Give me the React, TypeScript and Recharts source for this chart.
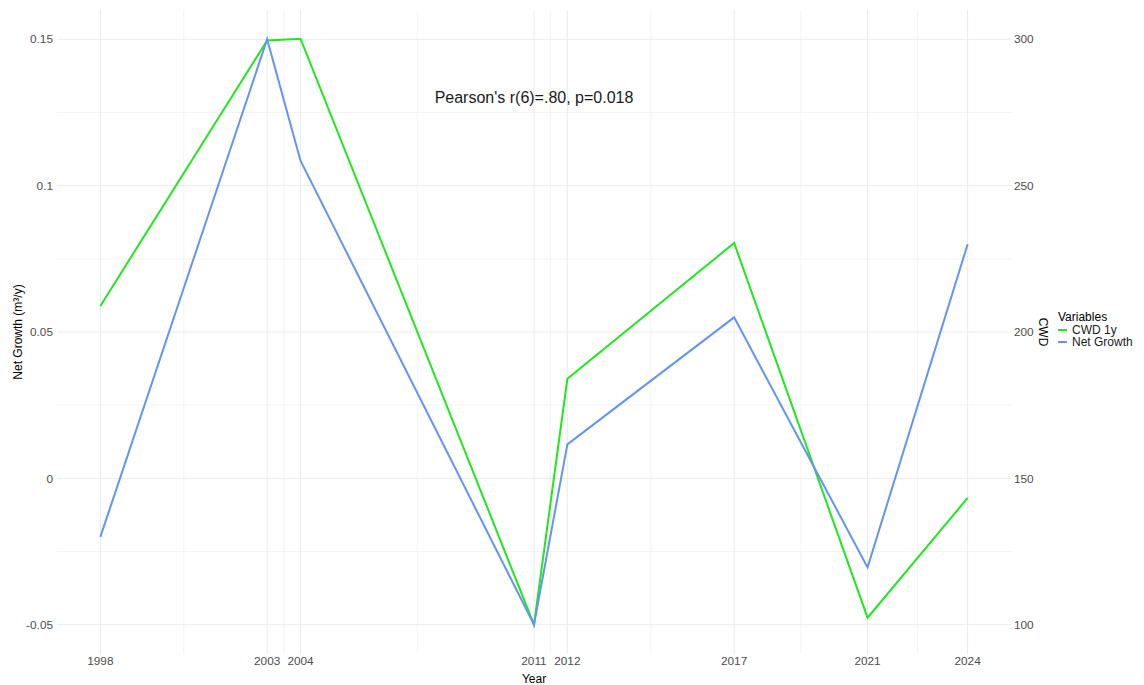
import React from "react";
import {
  LineChart,
  Line,
  XAxis,
  YAxis,
  ReferenceLine,
  ReferenceDot,
} from "recharts";

// survey years and the two measured series
const years = [1998, 2003, 2004, 2011, 2012, 2017, 2021, 2024];
const netGrowth = [-0.02, 0.15, 0.1085, -0.05, 0.0116, 0.055, -0.0304, 0.08];
const cwd1y = [208.9, 299.6, 300.2, 100, 184, 230.4, 102.4, 143.3];

const growthTicks = [-0.05, 0, 0.05, 0.1, 0.15];
const cwdTicks = [100, 150, 200, 250, 300];

const GREEN = "#1fe81f";
const BLUE = "#6495ed";
const GRID = "#ebebeb";
const MINOR = "#f3f3f3";
const FONT = "Arial, 'Liberation Sans', sans-serif";

const data = years.map((year, i) => ({
  year,
  growth: netGrowth[i],
  cwd: cwd1y[i],
}));

// ggplot-style minor breaks halfway between major ones
const midpoints = (ticks: number[]) =>
  ticks.slice(1).map((t, i) => (t + ticks[i]) / 2);

const tickStyle = { fill: "#4d4d4d", fontSize: 11.8, fontFamily: FONT };

const legendItems = [
  { name: "CWD 1y", color: GREEN },
  { name: "Net Growth", color: BLUE },
];

const gridLines = () => [
  ...midpoints(years).map((x) => (
    <ReferenceLine key={`mx${x}`} x={x} yAxisId="left" stroke={MINOR} strokeWidth={1} />
  )),
  ...midpoints(growthTicks).map((y) => (
    <ReferenceLine key={`my${y}`} y={y} yAxisId="left" stroke={MINOR} strokeWidth={1} />
  )),
  ...years.map((x) => (
    <ReferenceLine key={`x${x}`} x={x} yAxisId="left" stroke={GRID} strokeWidth={1} />
  )),
  ...growthTicks.map((y) => (
    <ReferenceLine key={`y${y}`} y={y} yAxisId="left" stroke={GRID} strokeWidth={1} />
  )),
];

const App: React.FC = () => {
  return (
    <div
      style={{
        position: "absolute",
        left: 0,
        top: 0,
        width: 1144,
        height: 685,
        background: "#fff",
        fontFamily: FONT,
      }}
    >
      <LineChart
        width={1144}
        height={685}
        data={data}
        margin={{ top: 10, right: 83, bottom: 0, left: 0 }}
      >
        {gridLines()}
        <XAxis
          dataKey="year"
          type="number"
          domain={[1996.7, 2025.3]}
          ticks={years}
          interval={0}
          height={31}
          axisLine={false}
          tickLine={false}
          tickSize={0}
          tickMargin={3}
          tick={tickStyle}
          label={{
            value: "Year",
            position: "insideBottom",
            offset: 2,
            fill: "#000",
            fontSize: 12,
            fontFamily: FONT,
          }}
        />
        <YAxis
          yAxisId="left"
          type="number"
          domain={[-0.06, 0.16]}
          ticks={growthTicks}
          width={57}
          axisLine={false}
          tickLine={false}
          tickSize={0}
          tickMargin={4}
          tick={tickStyle}
          label={({ viewBox }: any) => (
            <text
              x={viewBox.x + 18}
              y={viewBox.y + viewBox.height / 2}
              transform={`rotate(-90 ${viewBox.x + 18} ${viewBox.y + viewBox.height / 2})`}
              textAnchor="middle"
              dominantBaseline="central"
              fill="#000"
              fontSize={12}
              fontFamily={FONT}
            >
              Net Growth (m³/y)
            </text>
          )}
        />
        <YAxis
          yAxisId="right"
          orientation="right"
          type="number"
          domain={[90, 310]}
          ticks={cwdTicks}
          width={50}
          axisLine={false}
          tickLine={false}
          tickSize={0}
          tickMargin={3}
          tick={tickStyle}
          label={({ viewBox }: any) => (
            <text
              x={viewBox.x + 32}
              y={viewBox.y + viewBox.height / 2}
              transform={`rotate(90 ${viewBox.x + 32} ${viewBox.y + viewBox.height / 2})`}
              textAnchor="middle"
              dominantBaseline="central"
              fill="#000"
              fontSize={12}
              fontFamily={FONT}
            >
              CWD
            </text>
          )}
        />
        <Line
          yAxisId="right"
          dataKey="cwd"
          name="CWD 1y"
          type="linear"
          stroke={GREEN}
          strokeWidth={2}
          dot={false}
          activeDot={false}
          isAnimationActive={false}
        />
        <Line
          yAxisId="left"
          dataKey="growth"
          name="Net Growth"
          type="linear"
          stroke={BLUE}
          strokeWidth={2}
          dot={false}
          activeDot={false}
          isAnimationActive={false}
        />
        <ReferenceDot
          x={2011}
          y={0.13}
          yAxisId="left"
          r={0}
          fill="none"
          stroke="none"
          label={{
            value: "Pearson's r(6)=.80, p=0.018",
            position: "center",
            fill: "#1a1a1a",
            fontSize: 16,
            fontFamily: FONT,
          }}
        />
      </LineChart>
      <div style={{ position: "absolute", left: 1058, top: 310, fontSize: 12 }}>
        <div style={{ color: "#000", lineHeight: "14px" }}>Variables</div>
        {legendItems.map((item) => (
          <div
            key={item.name}
            style={{ display: "flex", alignItems: "center", height: 12, color: "#1a1a1a" }}
          >
            <span
              style={{
                display: "inline-block",
                width: 9,
                height: 2,
                background: item.color,
                marginRight: 5,
              }}
            />
            {item.name}
          </div>
        ))}
      </div>
    </div>
  );
};

export default App;
